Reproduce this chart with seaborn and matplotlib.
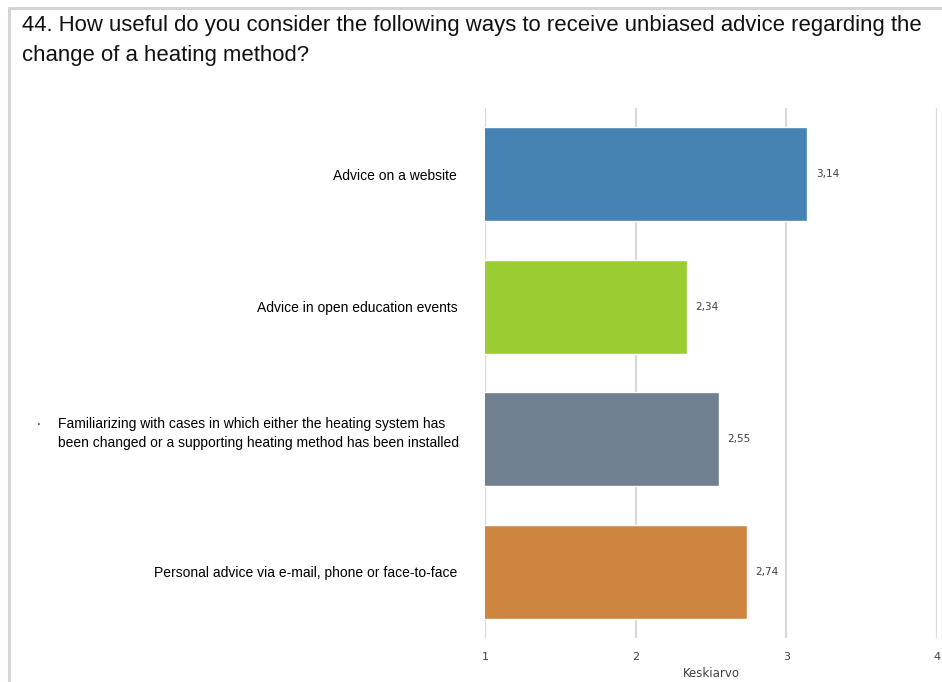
import matplotlib
matplotlib.use("Agg")
import matplotlib.pyplot as plt
from matplotlib.lines import Line2D
from matplotlib.transforms import ScaledTranslation
import seaborn as sns
import pandas as pd

title = ("44. How useful do you consider the following ways to receive unbiased advice regarding the\n"
         "change of a heating method?")
categories = [
    "Advice on a website",
    "Advice in open education events",
    "Familiarizing with cases in which either the heating system has\n"
    "been changed or a supporting heating method has been installed",
    "Personal advice via e-mail, phone or face-to-face",
]
means = [3.14, 2.34, 2.55, 2.74]
bar_colors = ["#4682B4", "#9ACD32", "#708090", "#CD853F"]
x_ticks = [1, 2, 3, 4]
x_label = "Keskiarvo"

sns.set_theme(style="white")
plt.rcParams["font.family"] = ["Liberation Sans", "DejaVu Sans"]

df = pd.DataFrame({"category": categories, "mean": means})

fig = plt.figure(figsize=(9.42, 6.82), dpi=100)
ax = fig.add_axes([485 / 942, 1 - 638 / 682, (937 - 485) / 942, (638 - 108) / 682])

sns.barplot(data=df, y="category", x="mean", hue="category", palette=bar_colors,
            legend=False, width=0.71, saturation=1, ax=ax, orient="h")

ax.set_xlim(1, 4)
ax.set_xticks(x_ticks)
ax.grid(axis="x", color="#d9d9d9", linewidth=1.6)
ax.set_axisbelow(True)
for s in ax.spines.values():
    s.set_visible(False)

ax.tick_params(axis="x", length=0, pad=10, labelsize=8, labelcolor="#404040")
ax.tick_params(axis="y", length=0, pad=20, labelsize=10, labelcolor="black")
for lab in ax.get_yticklabels():
    lab.set_multialignment("left")
    lab.set_linespacing(1.45)
    if "\n" in lab.get_text():
        # the two-line label sits a little above its bar's centre
        lab.set_transform(lab.get_transform()
                          + ScaledTranslation(0.02, 0.10, fig.dpi_scale_trans))
ax.set_ylabel("")
ax.set_xlabel(x_label, fontsize=8.5, color="#404040", labelpad=4,
              family=["DejaVu Sans"])

for container in ax.containers:
    ax.bar_label(container, labels=[f"{v:.2f}".replace(".", ",") for v in container.datavalues],
                 padding=6, fontsize=7.5, color="#404040", family=["DejaVu Sans"])

for lab in ax.get_xticklabels():
    lab.set_family(["DejaVu Sans"])

fig.text(37 / 942, 1 - 421 / 682, ".", fontsize=10, ha="left", va="center")

fig.text(22 / 942, 1 - 15 / 682, title, fontsize=15.9, ha="left", va="top",
         linespacing=1.55, color="#111111")

# light frame around the card
fig.add_artist(Line2D([9 / 942, 1.0], [1 - 8 / 682, 1 - 8 / 682], color="#d4d4d4",
                      linewidth=2.2, transform=fig.transFigure))
fig.add_artist(Line2D([9 / 942, 9 / 942], [0.0, 1 - 8 / 682], color="#d4d4d4",
                      linewidth=2.2, transform=fig.transFigure))

fig.savefig("out.png", dpi=100)
